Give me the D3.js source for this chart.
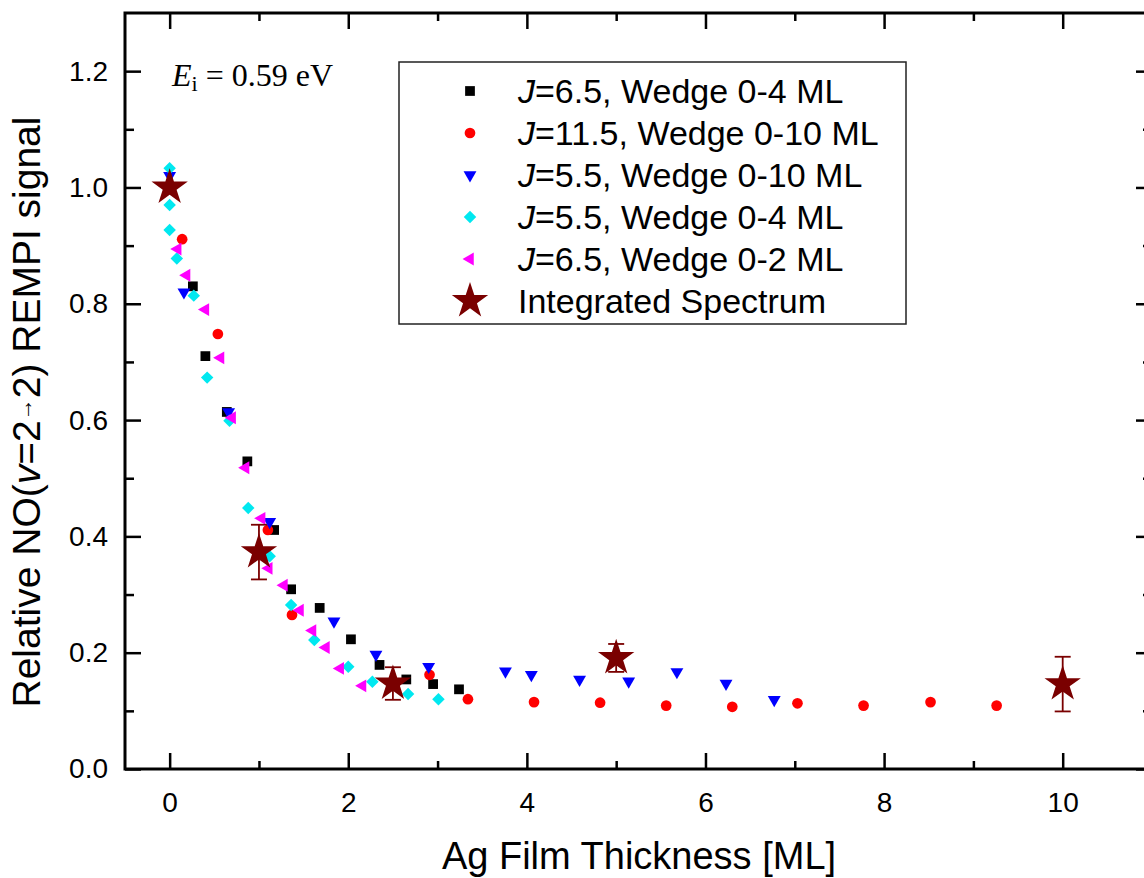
<!DOCTYPE html>
<html>
<head>
<meta charset="utf-8">
<script src="https://cdn.jsdelivr.net/npm/d3@7"></script>
<style>
  html, body { margin: 0; padding: 0; background: #fff; }
  svg { display: block; }
  text { font-family: "Liberation Sans", Arial, sans-serif; fill: #000; }
</style>
</head>
<body>
<svg id="chart" width="1144" height="878"></svg>
<script>
// Ag film thickness [ML] vs relative NO(v=2→2) REMPI signal, one array per measurement
const j65w4 = [[0,1.0],[0.26,0.83],[0.40,0.71],[0.64,0.614],[0.87,0.529],[1.17,0.411],[1.36,0.309],
  [1.68,0.277],[2.03,0.223],[2.35,0.179],[2.65,0.154],[2.95,0.146],[3.24,0.137]];
const j115w10 = [[0,1.0],[0.14,0.911],[0.54,0.748],[1.10,0.411],[1.37,0.265],[2.91,0.162],[3.34,0.120],
  [4.08,0.115],[4.82,0.114],[5.56,0.109],[6.30,0.107],[7.03,0.113],[7.77,0.109],[8.52,0.115],[9.26,0.109]];
const j55w10 = [[0,1.02],[0.16,0.82],[0.66,0.614],[1.12,0.425],[1.84,0.254],[2.31,0.197],[2.90,0.176],
  [3.76,0.168],[4.05,0.162],[4.59,0.154],[5.14,0.151],[5.68,0.167],[6.23,0.147],[6.77,0.119]];
const j55w4 = [[0,1.033],[0,0.97],[0,0.927],[0.08,0.878],[0.27,0.814],[0.42,0.673],[0.67,0.599],
  [0.88,0.449],[1.12,0.366],[1.36,0.282],[1.62,0.222],[2.00,0.176],[2.27,0.150],[2.67,0.129],[3.01,0.120]];
const j65w2 = [[0.09,0.894],[0.19,0.849],[0.40,0.790],[0.57,0.707],[0.70,0.604],[0.85,0.518],[1.03,0.431],
  [1.11,0.345],[1.28,0.316],[1.46,0.273],[1.60,0.238],[1.75,0.209],[1.91,0.173],[2.16,0.143]];
// integrated spectrum: thickness, signal, error
const integThickness = [0, 1, 2.5, 5, 10];
const integSignal = [1.0, 0.373, 0.147, 0.191, 0.146];
const integError = [0, 0.047, 0.028, 0.024, 0.047];

const xTicks = [0, 2, 4, 6, 8, 10];
const xMinorTicks = [1, 3, 5, 7, 9];
const yTicks = [0.0, 0.2, 0.4, 0.6, 0.8, 1.0, 1.2];
const yMinorTicks = [0.1, 0.3, 0.5, 0.7, 0.9, 1.1];

const legendLabels = [
  "6.5, Wedge 0-4 ML",
  "11.5, Wedge 0-10 ML",
  "5.5, Wedge 0-10 ML",
  "5.5, Wedge 0-4 ML",
  "6.5, Wedge 0-2 ML"
];

const svg = d3.select("#chart");
const plotLeft = 125, plotRight = 1152, plotTop = 13, plotBottom = 769;

const x = d3.scaleLinear().domain([-0.5, 11]).range([plotLeft, plotRight]);
const y = d3.scaleLinear().domain([0, 1.3]).range([plotBottom, plotTop]);

// axes with inward ticks
const axisStroke = 2.5;
const tickFont = 28;
function styleAxis(g) {
  g.select(".domain").remove();
  g.selectAll(".tick line").attr("stroke", "#000").attr("stroke-width", axisStroke);
}
svg.append("g").attr("transform", `translate(0,${plotBottom})`)
  .call(d3.axisBottom(x).tickValues(xTicks).tickSizeInner(-16).tickSizeOuter(0).tickPadding(23).tickFormat(d3.format("d")))
  .call(styleAxis)
  .call(g => g.selectAll("text").attr("font-size", tickFont).attr("font-family", "Liberation Sans, Arial, sans-serif"));
svg.append("g").attr("transform", `translate(0,${plotBottom})`)
  .call(d3.axisBottom(x).tickValues(xMinorTicks).tickSizeInner(-8).tickSizeOuter(0).tickFormat(""))
  .call(styleAxis);
svg.append("g").attr("transform", `translate(0,${plotTop})`)
  .call(d3.axisTop(x).tickValues(xTicks).tickSizeInner(-16).tickSizeOuter(0).tickFormat(""))
  .call(styleAxis);
svg.append("g").attr("transform", `translate(0,${plotTop})`)
  .call(d3.axisTop(x).tickValues(xMinorTicks).tickSizeInner(-8).tickSizeOuter(0).tickFormat(""))
  .call(styleAxis);
svg.append("g").attr("transform", `translate(${plotLeft},0)`)
  .call(d3.axisLeft(y).tickValues(yTicks).tickSizeInner(-16).tickSizeOuter(0).tickPadding(17).tickFormat(d3.format(".1f")))
  .call(styleAxis)
  .call(g => g.selectAll("text").attr("font-size", tickFont).attr("font-family", "Liberation Sans, Arial, sans-serif"));
svg.append("g").attr("transform", `translate(${plotLeft},0)`)
  .call(d3.axisLeft(y).tickValues(yMinorTicks).tickSizeInner(-9).tickSizeOuter(0).tickFormat(""))
  .call(styleAxis);
svg.append("g").attr("transform", `translate(${plotRight},0)`)
  .call(d3.axisRight(y).tickValues(yTicks).tickSizeInner(-16).tickSizeOuter(0).tickFormat(""))
  .call(styleAxis);
svg.append("g").attr("transform", `translate(${plotRight},0)`)
  .call(d3.axisRight(y).tickValues(yMinorTicks).tickSizeInner(-9).tickSizeOuter(0).tickFormat(""))
  .call(styleAxis);

// frame
svg.append("rect")
  .attr("x", plotLeft).attr("y", plotTop)
  .attr("width", plotRight - plotLeft).attr("height", plotBottom - plotTop)
  .attr("fill", "none").attr("stroke", "#000").attr("stroke-width", 3);

// marker styles per series
const seriesDefs = [
  { data: j65w4,   color: "#000000", type: d3.symbolSquare,   size: 95, rotate: 0 },
  { data: j115w10, color: "#ff0000", type: d3.symbolCircle,   size: 90, rotate: 0 },
  { data: j55w10,  color: "#0000ff", type: d3.symbolTriangle, size: 72, rotate: 180 },
  { data: j55w4,   color: "#00e8f0", type: d3.symbolSquare,   size: 78, rotate: 45 },
  { data: j65w2,   color: "#ff00ff", type: d3.symbolTriangle, size: 72, rotate: -90 }
];
const starColor = "#7a0000";
const starSymbol = d3.symbol().type(d3.symbolStar).size(410);

const plot = svg.append("g");
seriesDefs.forEach(s => {
  const sym = d3.symbol().type(s.type).size(s.size);
  plot.append("g").selectAll("path").data(s.data).join("path")
    .attr("d", sym)
    .attr("transform", d => `translate(${x(d[0])},${y(d[1])}) rotate(${s.rotate})`)
    .attr("fill", s.color);
});

// integrated spectrum: error bars under stars
const integ = integThickness.map((t, i) => ({ t, v: integSignal[i], e: integError[i] }));
const eb = plot.append("g").attr("stroke", starColor).attr("stroke-width", 1.8).attr("fill", "none");
integ.filter(d => d.e > 0).forEach(d => {
  const cx = x(d.t), y1 = y(d.v + d.e), y0 = y(d.v - d.e);
  eb.append("line").attr("x1", cx).attr("x2", cx).attr("y1", y1).attr("y2", y0);
  eb.append("line").attr("x1", cx - 8).attr("x2", cx + 8).attr("y1", y1).attr("y2", y1);
  eb.append("line").attr("x1", cx - 8).attr("x2", cx + 8).attr("y1", y0).attr("y2", y0);
});
plot.append("g").selectAll("path").data(integ).join("path")
  .attr("d", starSymbol)
  .attr("transform", d => `translate(${x(d.t)},${y(d.v)})`)
  .attr("fill", starColor);

// legend
const legendFont = 34;
const lg = svg.append("g");
lg.append("rect").attr("x", 399).attr("y", 62).attr("width", 507).attr("height", 262)
  .attr("fill", "#fff").attr("stroke", "#222").attr("stroke-width", 1.5);
const rowY = d3.scalePoint().domain(d3.range(6)).range([91, 301]);
seriesDefs.forEach((s, i) => {
  const sym = d3.symbol().type(s.type).size(s.size);
  lg.append("path").attr("d", sym)
    .attr("transform", `translate(470,${rowY(i)}) rotate(${s.rotate})`)
    .attr("fill", s.color);
  const t = lg.append("text").attr("x", 518).attr("y", rowY(i)).attr("dy", "0.36em").attr("font-size", legendFont);
  t.append("tspan").attr("font-style", "italic").text("J");
  t.append("tspan").text("=" + legendLabels[i]);
});
lg.append("path").attr("d", starSymbol).attr("transform", `translate(470,${rowY(5)})`).attr("fill", starColor);
lg.append("text").attr("x", 518).attr("y", rowY(5)).attr("dy", "0.36em").attr("font-size", legendFont)
  .text("Integrated Spectrum");

// incidence energy annotation
const ann = svg.append("text").attr("x", 172).attr("y", 86)
  .style("font-family", "'Liberation Serif', 'Times New Roman', serif").attr("font-size", 32);
ann.append("tspan").attr("font-style", "italic").text("E");
ann.append("tspan").attr("font-size", 22).attr("dy", 5).text("i");
ann.append("tspan").attr("dy", -5).text(" = 0.59 eV");

// axis titles
svg.append("text").attr("x", 639).attr("y", 869).attr("text-anchor", "middle")
  .attr("font-size", 38).text("Ag Film Thickness [ML]");
const yt = svg.append("text").attr("transform", "translate(40,412) rotate(-90)")
  .attr("text-anchor", "middle").attr("font-size", 39);
yt.append("tspan").text("Relative NO(");
yt.append("tspan").attr("font-style", "italic").text("v");
yt.append("tspan").text("=2");
yt.append("tspan").attr("font-size", 22).attr("dy", -8).text("→");
yt.append("tspan").attr("dy", 8).text("2) REMPI signal");
</script>
</body>
</html>
